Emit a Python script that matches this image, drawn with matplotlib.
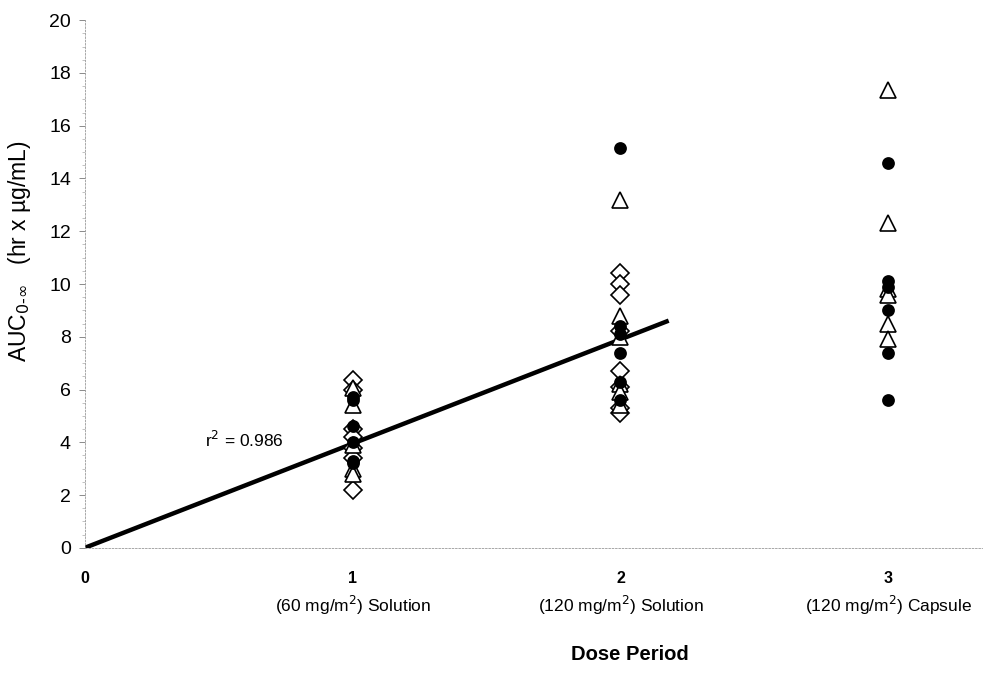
import numpy as np
import matplotlib
matplotlib.use("Agg")
import matplotlib.pyplot as plt

plt.rcParams['font.family'] = ['Liberation Sans', 'DejaVu Sans']

# values (AUC, hr x ug/mL)
x1_diamonds = [6.35, 6.0, 4.5, 4.2, 3.8, 3.4, 2.2]
x1_triangles = [6.05, 5.4, 3.9, 3.0, 2.8]
x1_circles = [5.7, 5.6, 4.6, 4.0, 3.3, 3.2]

x2_diamonds = [10.4, 10.0, 9.6, 8.2, 6.7, 6.1, 5.3, 5.1]
x2_triangles = [13.2, 8.8, 8.0, 6.2, 5.9, 5.4]
x2_circles = [15.15, 8.4, 8.1, 7.4, 6.3, 5.6]

x3_triangles = [17.35, 12.3, 9.8, 9.6, 8.5, 7.9]
x3_circles = [14.6, 10.1, 9.9, 9.0, 7.4, 5.6]

fit_x = [0, 2.18]
fit_slope = 3.95
r_squared = 0.986

tick_labels = ['0', '1', '2', '3']
sub_labels = ['', '(60 mg/m$^2$) Solution', '(120 mg/m$^2$) Solution',
              '(120 mg/m$^2$) Capsule']

fig = plt.figure(figsize=(9.86, 6.73), dpi=100)
ax = fig.add_axes([0.086, 0.186, 0.91, 0.784])

ax.plot(fit_x, [v * fit_slope for v in fit_x], color='black', lw=3.2,
        solid_capstyle='butt', zorder=1)

def scatter(xpos, vals, marker, ms, filled):
    ax.plot([xpos] * len(vals), vals, linestyle='none', marker=marker,
            markersize=ms, markerfacecolor='black' if filled else 'white',
            markeredgecolor='black', markeredgewidth=1.2, zorder=3)

scatter(1, x1_diamonds, 'D', 9.5, False)
scatter(1, x1_triangles, '^', 12, False)
scatter(1, x1_circles, 'o', 8, True)
scatter(2, x2_diamonds, 'D', 9.5, False)
scatter(2, x2_triangles, '^', 12, False)
scatter(2, x2_circles, 'o', 8, True)
scatter(3, x3_triangles, '^', 12, False)
scatter(3, x3_circles, 'o', 8, True)

ax.text(0.45, 4.1, 'r$^2$ = %.3f' % r_squared, fontsize=12.5, va='center',
        ha='left')

ax.set_xlim(0, 3.35)
ax.set_ylim(0, 20)
ax.set_yticks(np.arange(0, 21, 2))
ax.set_yticks(np.arange(0, 20.5, 0.5), minor=True)
ax.tick_params(axis='y', which='major', length=4, width=0.6, color='#777777',
               labelsize=14, pad=6)
ax.tick_params(axis='y', which='minor', length=2, width=0.5, color='#aaaaaa')

ax.set_xticks([0, 1, 2, 3])
ax.set_xticklabels(tick_labels, fontsize=11.5, fontweight='bold')
ax.tick_params(axis='x', length=0, pad=17)
for i, s in enumerate(sub_labels):
    if s:
        ax.text(i, -2.2, s, fontsize=12.5, ha='center', va='center')

for side in ['top', 'right']:
    ax.spines[side].set_visible(False)
for side in ['left', 'bottom']:
    ax.spines[side].set_color('#999999')
    ax.spines[side].set_linewidth(0.6)
    ax.spines[side].set_linestyle((0, (2, 2)))

ax.set_ylabel('AUC$_{0\\text{-}\\infty}$   (hr x µg/mL)', fontsize=16.5)
ax.yaxis.set_label_coords(-0.058, 0.5625)
fig.text(0.639, 0.027, 'Dose Period', fontsize=14.5, fontweight='bold',
         ha='center', va='center')

fig.savefig('out.png', dpi=100)
